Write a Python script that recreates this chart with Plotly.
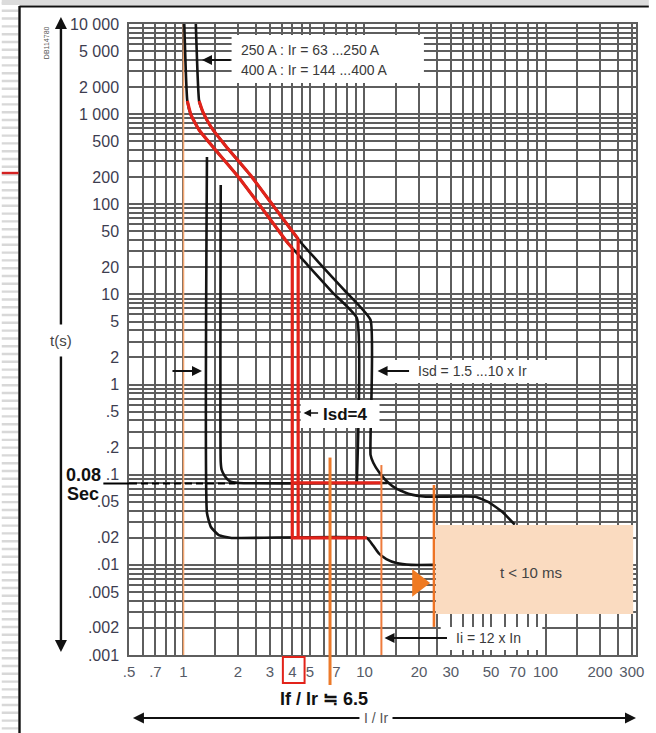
import math
import plotly.graph_objects as go

# ---------------- data (I/Ir , t in seconds) ----------------
# long-time band, left (min) curve, then Isd = 10 x Ir drop
band_min_x = [1.01, 1.05, 1.10, 1.22, 1.47, 2.01, 2.76, 3.77, 4.85, 6.63, 9.07, 9.07]
band_min_t = [10000, 1400, 980, 667, 422, 201, 86.5, 37.2, 21.2, 10.6, 5.48, 0.081]
# long-time band, right (max) curve, then Isd drop and short-time plateau
band_max_x = [1.17, 1.22, 1.28, 1.42, 1.71, 2.34, 3.20, 4.38, 5.63, 7.71, 10.8,
              10.8, 11.2, 12.1, 13.4, 15.0, 17.7, 21.8, 40.9, 48.2, 57.4, 67.6]
band_max_t = [10000, 1400, 1057, 720, 444, 211, 91, 39.2, 22.3, 11.2, 5.2,
              0.166, 0.135, 0.105, 0.083, 0.070, 0.061, 0.057, 0.057, 0.050, 0.039, 0.028]
# Isd = 1.5 x Ir, upper plateau (0.08 s)
sd_hi_x = [1.606, 1.606, 1.626, 1.689, 1.798, 2.01, 13.4]
sd_hi_t = [164, 0.138, 0.113, 0.097, 0.085, 0.081, 0.081]
# Isd = 1.5 x Ir, lower plateau (0.02 s)
sd_lo_x = [1.348, 1.348, 1.417, 1.566, 1.844, 10.3, 11.1, 11.96, 13.2, 15.0, 18.1, 24.15]
sd_lo_t = [335, 0.0376, 0.0263, 0.0214, 0.0199, 0.0199, 0.0166, 0.0135, 0.0116, 0.0105, 0.0100, 0.0100]

# highlighted setting Isd = 4
isd4_x = [3.99, 4.30]
plateau_hi_t = 0.081
plateau_lo_t = 0.0199
red_hi_end_x = 12.4
red_lo_end_x = 10.3

# orange markers
ir_x = 1.0
if_x = 6.45
if_top_t = 0.155
ii_x = 12.4
ii_top_t = 0.128
inst_x = 24.2
inst_t = [0.0769, 0.00205]
box_x = [24.8, 305]
box_t = [0.00285, 0.0277]
tri_x = [19.8]
tri_t = [0.0063]

# axes
x_tick_vals = [0.5, 0.7, 1, 2, 3, 4, 5, 7, 10, 20, 30, 50, 70, 100, 200, 300]
x_tick_text = ['.5', '.7', '1', '2', '3', '4', '5', '7', '10', '20', '30', '50', '70', '100', '200', '300']
x_grid_mults = [1, 1.5, 2, 2.5, 3, 3.5, 4, 4.5, 5, 6, 7, 8, 9]
y_tick_vals = [10000, 5000, 2000, 1000, 500, 200, 100, 50, 20, 10, 5, 2, 1,
               0.5, 0.2, 0.1, 0.05, 0.02, 0.01, 0.005, 0.002, 0.001]
y_tick_text = ['10 000', '5 000', '2 000', '1 000', '500', '200', '100', '50', '20', '10', '5', '2', '1',
               '.5', '.2', '.1', '.05', '.02', '.01', '.005', '.002', '.001']
y_grid_mults = [1, 2, 3, 4, 5, 6, 7, 8, 9]

# ---------------- layout helpers ----------------
W, H = 656, 733
ML, MR, MT, MB = 129, 13, 24, 78
XR = [math.log10(0.5), 2.5]
YR = [-3, 4]
PW, PH = W - ML - MR, H - MT - MB


def px_x(px):
    return (px - ML) / PW


def px_y(py):
    return (H - MB - py) / PH


def t_paper(t):
    return (math.log10(t) - YR[0]) / (YR[1] - YR[0])


def cut(xs, ts, i0, xend):
    ox, ot = [xs[i0]], [ts[i0]]
    for i in range(i0 + 1, len(xs)):
        if xs[i] < xend:
            ox.append(xs[i]); ot.append(ts[i])
        else:
            a, b = math.log10(xs[i - 1]), math.log10(xs[i])
            f = (math.log10(xend) - a) / (b - a)
            lt = math.log10(ts[i - 1]) + f * (math.log10(ts[i]) - math.log10(ts[i - 1]))
            ox.append(xend); ot.append(10 ** lt)
            break
    return ox, ot


def grid_vals(mults, lo, hi, kmin, kmax):
    out = []
    for k in range(kmin, kmax + 1):
        for m in mults:
            v = round(m * 10 ** k, 8)
            if lo - 1e-9 <= v <= hi + 1e-9:
                out.append(v)
    return sorted(set(out))


xg = grid_vals(x_grid_mults, 0.5, 300, -1, 2)
yg = grid_vals(y_grid_mults, 0.001, 10000, -3, 4)
xlab = dict(zip(x_tick_vals, x_tick_text))
ylab = dict(zip(y_tick_vals, y_tick_text))
xt = [xlab.get(v, '') for v in xg]
yt = [ylab.get(v, '') for v in yg]

BLACK = '#141414'
RED = '#e2231a'
SM = 0.4
fig = go.Figure()

# orange Ir line
fig.add_trace(go.Scatter(x=[ir_x, ir_x], y=[0.001, 10000], mode='lines',
                         line=dict(color='#f4a56e', width=1.6), hoverinfo='skip'))

# black curves
for xs, ts in [(band_min_x, band_min_t), (band_max_x, band_max_t), (sd_hi_x, sd_hi_t), (sd_lo_x, sd_lo_t)]:
    fig.add_trace(go.Scatter(x=xs, y=ts, mode='lines',
                             line=dict(color=BLACK, width=2.6, shape='spline', smoothing=SM),
                             hoverinfo='skip'))

# red highlighted path: long-time part (follows the black curves)
ax_, at_ = cut(band_min_x, band_min_t, 0, isd4_x[0])
bx_, bt_ = cut(band_max_x, band_max_t, 0, isd4_x[1])
for xs, ts in [(ax_, at_), (bx_, bt_)]:
    xs_r, ts_r = xs[1:], ts[1:]
    fig.add_trace(go.Scatter(x=xs_r, y=ts_r, mode='lines',
                             line=dict(color=RED, width=3.2, shape='spline', smoothing=SM),
                             hoverinfo='skip'))
# red Isd = 4 drops and plateaus
fig.add_trace(go.Scatter(x=[isd4_x[0], isd4_x[0], red_lo_end_x], y=[at_[-1], plateau_lo_t, plateau_lo_t],
                         mode='lines', line=dict(color=RED, width=3.2), hoverinfo='skip'))
fig.add_trace(go.Scatter(x=[isd4_x[1], isd4_x[1]], y=[bt_[-1], plateau_lo_t],
                         mode='lines', line=dict(color=RED, width=3.2), hoverinfo='skip'))
fig.add_trace(go.Scatter(x=[isd4_x[0], red_hi_end_x], y=[plateau_hi_t, plateau_hi_t],
                         mode='lines', line=dict(color=RED, width=3.2), hoverinfo='skip'))

# orange lines
fig.add_trace(go.Scatter(x=[ii_x, ii_x], y=[ii_top_t, 0.001], mode='lines',
                         line=dict(color='#ee7b3c', width=2), hoverinfo='skip'))
fig.add_trace(go.Scatter(x=[inst_x, inst_x], y=inst_t, mode='lines',
                         line=dict(color='#ee7424', width=2.6), hoverinfo='skip'))
# instantaneous zone box
fig.add_trace(go.Scatter(x=[box_x[0], box_x[1], box_x[1], box_x[0], box_x[0]],
                         y=[box_t[0], box_t[0], box_t[1], box_t[1], box_t[0]],
                         mode='lines', fill='toself', fillcolor='#fadbc0',
                         line=dict(width=0, color='#fadbc0'), hoverinfo='skip'))
fig.add_trace(go.Scatter(x=tri_x, y=tri_t, mode='markers',
                         marker=dict(symbol='triangle-right', size=24, color='#ef7a22',
                                     line=dict(width=0)), hoverinfo='skip'))

shapes = []
# If line extending below the axis
shapes.append(dict(type='line', xref='x', yref='paper', x0=if_x, x1=if_x,
                   y0=t_paper(if_top_t), y1=px_y(685), line=dict(color='#ec7a2a', width=3), layer='above'))


def white(x0, y0, x1, y1):
    shapes.append(dict(type='rect', xref='paper', yref='paper', x0=px_x(x0), x1=px_x(x1),
                       y0=px_y(y1), y1=px_y(y0), fillcolor='white', line=dict(width=0), layer='above'))


white(233, 35, 428, 83)
white(383, 360, 560, 383)
white(303, 400, 383, 428)
white(445, 627, 548, 650)

# red box around tick "4"
shapes.append(dict(type='rect', xref='paper', yref='paper', x0=px_x(285), x1=px_x(307),
                   y0=px_y(683), y1=px_y(657), line=dict(color='#e2231a', width=2)))
# 0.08 s dashed marker
shapes.append(dict(type='line', xref='paper', yref='paper', x0=px_x(103), x1=px_x(130),
                   y0=px_y(483.5), y1=px_y(483.5), line=dict(color='black', width=2)))
shapes.append(dict(type='line', xref='paper', yref='paper', x0=px_x(130), x1=px_x(237),
                   y0=px_y(483.5), y1=px_y(483.5), line=dict(color='black', width=2, dash='7px,4px'),
                   layer='above'))
# slide decorations
stripe = ''.join(f'M {px_x(0):.4f},{px_y(y):.4f} L {px_x(17):.4f},{px_y(y):.4f} '
                 for y in [3 + 7.8 * i for i in range(94)])
shapes.append(dict(type='path', xref='paper', yref='paper', path=stripe,
                   line=dict(color='#d8d8d8', width=2.4)))
shapes.append(dict(type='rect', xref='paper', yref='paper', x0=px_x(0), x1=px_x(656),
                   y0=px_y(5), y1=px_y(0), fillcolor='#dcdcdc', line=dict(width=0)))
shapes.append(dict(type='line', xref='paper', yref='paper', x0=px_x(18), x1=px_x(656),
                   y0=px_y(6.5), y1=px_y(6.5), line=dict(color='#111', width=2.2)))
shapes.append(dict(type='line', xref='paper', yref='paper', x0=px_x(18), x1=px_x(18),
                   y0=px_y(6), y1=px_y(733), line=dict(color='#111', width=2.4)))
shapes.append(dict(type='line', xref='paper', yref='paper', x0=px_x(0), x1=px_x(17),
                   y0=px_y(173), y1=px_y(173), line=dict(color='#d42121', width=2.4)))

ann = []


def text(x, y, s, size=14, color='#3a3a3a', bold=False, xanchor='left', angle=0):
    ann.append(dict(xref='paper', yref='paper', x=px_x(x), y=px_y(y), text=f'<b>{s}</b>' if bold else s,
                    showarrow=False, xanchor=xanchor, yanchor='middle', textangle=angle,
                    font=dict(size=size, color=color,
                              family='Liberation Sans, Arial, sans-serif')))


def arrow(xh, yh, xt_, yt_, width=2, size=1.0, head=2, color='#111'):
    ann.append(dict(xref='paper', yref='paper', x=px_x(xh), y=px_y(yh), ax=xt_ - xh, ay=yt_ - yh,
                    axref='pixel', ayref='pixel', text='', showarrow=True, arrowhead=head,
                    arrowsize=size, arrowwidth=width, arrowcolor=color))


text(241, 50, '250 A : Ir = 63 ...250 A', 14)
text(241, 70, '400 A : Ir = 144 ...400 A', 14)
arrow(203, 60, 233, 60)
text(420, 371, 'Isd = 1.5 ...10 x Ir', 14)
arrow(381, 371, 414, 371)
arrow(203, 371, 172, 371)
text(324, 414, 'Isd=4', 17, '#111', True)
arrow(306, 413, 322, 413, width=1.5, size=1.0)
text(63, 475, '0.08', 18, '#111', True)
text(64, 494, 'Sec', 18, '#111', True)
text(537, 572, 't &lt; 10 ms', 15, '#444', xanchor='center')
text(458, 638, 'Ii = 12 x In', 14)
arrow(388, 638, 452, 638)
text(280, 699, 'If / Ir ≒ 6.5', 18, '#111', True)
text(60, 340, 't(s)', 15, '#444', xanchor='center')
arrow(60, 17, 60, 326, width=2.4)
arrow(60, 652, 60, 355, width=2.4)
text(379, 718, 'I / Ir', 14, '#555', xanchor='center')
arrow(133, 718, 361, 718, width=2.2)
arrow(643, 718, 398, 718, width=2.2)
text(45, 43, 'DB114780', 7, '#555', xanchor='center', angle=-90)

GRID = '#5e5e5e'
fig.update_layout(
    width=W, height=H, margin=dict(l=ML, r=MR, t=MT, b=MB),
    paper_bgcolor='white', plot_bgcolor='white', showlegend=False,
    font=dict(family='Liberation Sans, Arial, sans-serif'),
    shapes=shapes, annotations=ann,
    xaxis=dict(type='log', range=XR, tickmode='array', tickvals=xg, ticktext=xt,
               showgrid=True, gridcolor=GRID, gridwidth=1.5, zeroline=False,
               showline=True, mirror=True, linecolor=GRID, linewidth=1.5, ticks='',
               tickfont=dict(size=15, color='#555a66'), ticklabelstandoff=2),
    yaxis=dict(type='log', range=YR, tickmode='array', tickvals=yg, ticktext=yt,
               showgrid=True, gridcolor=GRID, gridwidth=1.5, zeroline=False,
               showline=True, mirror=True, linecolor=GRID, linewidth=1.5, ticks='',
               tickfont=dict(size=16, color='#3d3d50'), ticklabelstandoff=5),
)

fig.write_html('out.html')
